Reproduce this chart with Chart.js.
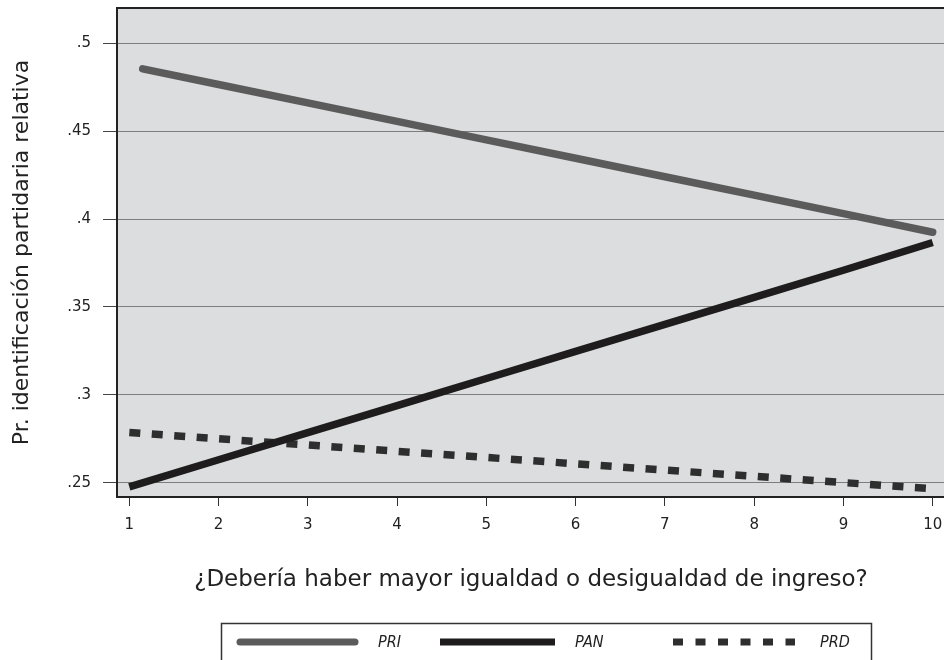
<!DOCTYPE html>
<html>
<head>
<meta charset="utf-8">
<script src="https://cdn.jsdelivr.net/npm/chart.js@4"></script>
<style>
  body { margin: 0; overflow: hidden; background: #fff; }
  #wrap { width: 944px; height: 660px; overflow: hidden; }
</style>
</head>
<body>
<div id="wrap"><canvas id="grafica" width="952" height="660"></canvas></div>
<script>
// datos
const xValores = [1, 2, 3, 4, 5, 6, 7, 8, 9, 10];
const xPri = [1.15, 2, 3, 4, 5, 6, 7, 8, 9, 10];
const pri = [0.4855, 0.4766, 0.4661, 0.4556, 0.4451, 0.4346, 0.4241, 0.4136, 0.4031, 0.3925];
const pan = [0.2477, 0.2631, 0.2785, 0.2939, 0.3093, 0.3247, 0.3401, 0.3555, 0.3709, 0.3867];
const prd = [0.2786, 0.2750, 0.2715, 0.2679, 0.2644, 0.2608, 0.2572, 0.2537, 0.2501, 0.2466];
const yTicks = [0.25, 0.3, 0.35, 0.4, 0.45, 0.5];
const xTicks = [1, 2, 3, 4, 5, 6, 7, 8, 9, 10];
const etiquetas = ['PRI', 'PAN', 'PRD'];

const FUENTE = '"DejaVu Sans", sans-serif';
const FUENTE_C = '"DejaVu Sans Condensed", "DejaVu Sans", sans-serif';

function puntos(xs, ys) {
    return xs.map(function (x, i) { return { x: x, y: ys[i] }; });
}

const fondo = {
    id: 'fondo',
    beforeDraw: function (chart) {
        const a = chart.chartArea;
        const ctx = chart.ctx;
        ctx.save();
        ctx.fillStyle = '#dcdddf';
        ctx.fillRect(a.left, a.top, a.right - a.left, a.bottom - a.top);
        ctx.restore();
    },
    afterDraw: function (chart) {
        const a = chart.chartArea;
        const ctx = chart.ctx;
        ctx.save();
        ctx.strokeStyle = '#222';
        ctx.lineWidth = 2;
        ctx.strokeRect(a.left, a.top, a.right - a.left, a.bottom - a.top);

        // leyenda con marco
        ctx.lineWidth = 1.5;
        ctx.strokeStyle = '#333';
        ctx.strokeRect(221.5, 623.5, 650, 45);
        const muestras = [
            { x0: 237, x1: 358, tx: 378 },
            { x0: 440, x1: 555, tx: 575 },
            { x0: 673, x1: 795, tx: 820 }
        ];
        const y = 642;
        chart.data.datasets.forEach(function (ds, i) {
            const m = muestras[i];
            ctx.beginPath();
            ctx.strokeStyle = ds.borderColor;
            ctx.lineWidth = 7;
            ctx.lineCap = ds.borderCapStyle;
            ctx.setLineDash(i === 2 ? [10, 12.5] : []);
            ctx.moveTo(m.x0 + (i === 0 ? 3 : 0), y);
            ctx.lineTo(m.x1 - (i === 0 ? 3 : 0), y);
            ctx.stroke();
            ctx.setLineDash([]);
            ctx.fillStyle = '#222';
            ctx.font = 'italic 16px ' + FUENTE_C;
            ctx.textBaseline = 'middle';
            ctx.textAlign = 'left';
            ctx.fillText(ds.label, m.tx, y + 1);
        });
        ctx.restore();
    }
};

new Chart(document.getElementById('grafica').getContext('2d'), {
    type: 'line',
    data: {
        datasets: [{
            label: etiquetas[0],
            data: puntos(xPri, pri),
            borderColor: '#5b5b5b',
            borderWidth: 7.5,
            borderCapStyle: 'round',
            pointRadius: 0
        }, {
            label: etiquetas[1],
            data: puntos(xValores, pan),
            borderColor: '#1f1c1d',
            borderWidth: 7.5,
            borderCapStyle: 'butt',
            pointRadius: 0
        }, {
            label: etiquetas[2],
            data: puntos(xValores, prd),
            borderColor: '#2e2e2e',
            borderWidth: 7.5,
            borderCapStyle: 'butt',
            borderDash: [11, 11.5],
            pointRadius: 0
        }]
    },
    options: {
        responsive: false,
        animation: false,
        layout: { padding: { top: 8, right: 7, left: 0, bottom: 0 } },
        plugins: { legend: { display: false }, tooltip: { enabled: false } },
        scales: {
            x: {
                type: 'linear',
                min: 0.862,
                max: 10.138,
                afterBuildTicks: function (s) { s.ticks = xTicks.map(function (v) { return { value: v }; }); },
                afterFit: function (s) { s.height = 163; s.paddingLeft = 0; s.paddingRight = 0; },
                grid: { drawOnChartArea: false, tickLength: 9, tickColor: '#333', lineWidth: 1 },
                border: { display: false },
                ticks: { color: '#222', padding: 10, maxRotation: 0, font: { family: FUENTE, size: 15 } },
                title: {
                    display: true,
                    text: '¿Debería haber mayor igualdad o desigualdad de ingreso?',
                    color: '#222',
                    font: { family: FUENTE, size: 23 },
                    padding: { top: 0, bottom: 66 }
                }
            },
            y: {
                min: 0.2419,
                max: 0.5201,
                afterBuildTicks: function (s) { s.ticks = yTicks.map(function (v) { return { value: v }; }); },
                afterFit: function (s) { s.width = 117; s.paddingTop = 0; s.paddingBottom = 0; },
                grid: { color: '#7d7d7d', lineWidth: 1, tickLength: 14, tickColor: '#444' },
                border: { display: false },
                ticks: {
                    color: '#222',
                    padding: 12,
                    font: { family: FUENTE, size: 15 },
                    callback: function (v) { return String(v).replace('0.', '.'); }
                },
                title: {
                    display: true,
                    text: 'Pr. identificación partidaria relativa',
                    color: '#222',
                    font: { family: FUENTE, size: 22 },
                    padding: { top: 9, bottom: 0 }
                }
            }
        }
    },
    plugins: [fondo]
});
</script>
</body>
</html>
